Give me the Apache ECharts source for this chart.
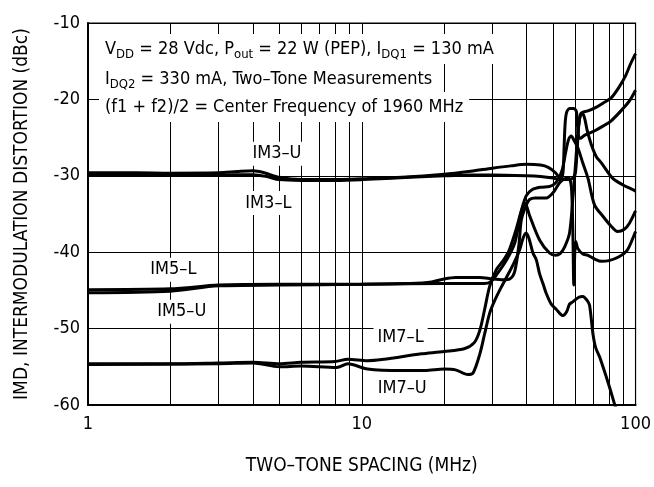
<!DOCTYPE html>
<html>
<head>
<meta charset="utf-8">
<script src="https://cdn.jsdelivr.net/npm/echarts@6/dist/echarts.min.js"></script>
<style>
html,body{margin:0;padding:0;background:#fff;}
#chart{width:654px;height:487px;}
</style>
</head>
<body>
<div id="chart"></div>
<script>
// ---- data (frequency spacing MHz, IMD dBc) ----
const im3U = [[1,-29.6],[1.5,-29.6],[2,-29.65],[3,-29.6],[3.5,-29.45],[4,-29.35],[4.4,-29.6],[5,-30.2],[6,-30.5],[8,-30.5],[10,-30.4],[14,-30.2],[20,-29.8],[25,-29.4],[30,-29.0],[35,-28.7],[40,-28.5],[45,-28.6],[48,-28.9],[51,-29.6],[53.3,-30.4],[54.3,-29.6],[54.8,-26.5],[55.3,-23.2],[56,-21.7],[57.5,-21.2],[59.5,-21.2],[60.8,-21.6],[61.4,-23.5],[61.9,-24.8],[62.8,-25.1],[65,-24.7],[71,-24.1],[76,-23.5],[81.5,-22.8],[90,-21.2],[95,-20.2],[100,-18.8]];
const im3L = [[1,-29.9],[2,-29.9],[3,-29.9],[4,-29.85],[4.5,-30.1],[5,-30.5],[6,-30.6],[8,-30.6],[10,-30.5],[15,-30.2],[20,-30.0],[25,-29.9],[30,-29.9],[40,-30.0],[45,-30.1],[50,-30.3],[53,-30.5],[56,-30.5],[59,-30.3],[60.3,-29.6],[61.2,-26.5],[62,-23.5],[63,-21.9],[64,-21.7],[67,-21.5],[72,-21.0],[76,-20.5],[81.5,-19.8],[87.4,-18.3],[92,-16.9],[96,-15.3],[100,-14.0]];
const im5L = [[1,-44.9],[2,-44.8],[3,-44.3],[5,-44.2],[10,-44.2],[15,-44.1],[18,-43.9],[20,-43.5],[22,-43.3],[27,-43.3],[30,-43.5],[33,-43.6],[34.7,-43.5],[36.2,-42.5],[37.5,-39],[38.3,-35.7],[39.9,-33.8],[41,-33.1],[43,-32.9],[47.2,-32.9],[50,-32.2],[52.8,-30.9],[55,-30.4],[57,-30.3],[58.3,-31.5],[59,-37],[59.5,-44.3],[60,-40],[60.5,-38.6],[61.5,-39.5],[64,-40.2],[67,-40.4],[71,-40.9],[75,-41.2],[80,-41.1],[87,-40.6],[93,-39.8],[97.7,-38.2],[100,-37.3]];
const im5U = [[1,-45.3],[2,-45.1],[3,-44.4],[5,-44.3],[10,-44.2],[20,-44.1],[28,-44.1],[29.5,-43.9],[31,-43],[33.7,-41.1],[36.2,-38.8],[37.7,-35.7],[38.8,-34],[39.5,-33.6],[41,-35.2],[44.6,-38.4],[48.5,-40.1],[51,-40.4],[53,-40.2],[55.1,-39.3],[57.4,-37.5],[59,-33],[60.5,-28],[61.5,-24.5],[62.5,-22.5],[63.4,-21.9],[64.5,-22],[65.5,-22.8],[66.5,-24],[68.9,-25.9],[71.9,-27.5],[75,-28.3],[82.4,-30.3],[90,-31.2],[97.7,-31.8],[100,-32.0]];
const im7L = [[1,-54.6],[2,-54.6],[3,-54.5],[4,-54.4],[5,-54.6],[6,-54.4],[8,-54.3],[8.9,-54.0],[10.5,-54.2],[16.5,-53.3],[20,-53.0],[23.8,-52.6],[25.8,-51.8],[27,-50.2],[28.1,-47.5],[29.3,-44.5],[31,-42.3],[33,-41],[34.5,-39.8],[36.5,-37.2],[38.3,-34.5],[39.9,-32.6],[42,-31.8],[45,-31.5],[48.5,-31.4],[50.5,-31.1],[52.1,-30.5],[54,-29.2],[55.5,-27],[57,-25.2],[58.2,-24.8],[59.5,-25.3],[61.5,-26.3],[64,-28.2],[67,-30.3],[70.8,-33.8],[76,-35.3],[81,-36.5],[86,-37.3],[91,-37.0],[95,-36.2],[100,-34.6]];
const im7U = [[1,-54.7],[3,-54.6],[4,-54.5],[5,-55],[6,-54.9],[8.1,-55.1],[8.9,-54.6],[10.5,-55.3],[14,-55.5],[17,-55.5],[20,-55.3],[22,-55.4],[24.4,-56],[25.5,-55.8],[27,-53.3],[28.1,-50.7],[29.3,-48],[30.6,-46.3],[32.4,-44.5],[34.7,-42.5],[36.2,-41.2],[37.7,-39.7],[38.8,-38.2],[39.8,-37.5],[40.8,-38.2],[42.2,-40.1],[43.4,-41],[44.6,-42.8],[46,-44.2],[47.2,-45.4],[49.2,-46.8],[51.4,-47.5],[54.3,-48.3],[56,-47.8],[57.4,-46.8],[59,-46.5],[62,-45.9],[64.2,-45.8],[66.5,-46.3],[67.9,-46.9],[69.9,-50.7],[71.5,-52.5],[73.9,-53.7],[80.4,-57.7],[84,-60],[86,-61]];

const seriesNames = ['IM3-U','IM3-L','IM5-L','IM5-U','IM7-L','IM7-U'];
const seriesData = [im3U, im3L, im5L, im5U, im7L, im7U];

// curve label anchors [text, freq, dBc]
const curveLabels = [['IM3\u2013U',4.9,-27.1],['IM3\u2013L',4.56,-33.55],['IM5\u2013L',2.05,-42.3],['IM5\u2013U',2.2,-47.8],['IM7\u2013L',13.86,-51.1],['IM7\u2013U',14.05,-57.8]];

// vertical log grid lines (MHz)
const xGridValues = [2,3,4,5,6,7,8,9,10,20,30,40,50,60,70,80,90];
const yTicks = {min:-60, max:-10, interval:10};
const xRange = {min:1, max:100};

const FONT = "'Liberation Sans Narrow','Arial Narrow','DejaVu Sans Condensed',sans-serif";

const chart = echarts.init(document.getElementById('chart'), null, {renderer:'canvas'});

const curveSeries = seriesNames.map((n,i)=>({
  name:n, type:'line', data:seriesData[i], showSymbol:false, symbol:'none',
  smooth:0.3, z:100, clip:true,
  lineStyle:{color:'#000', width:3},
  silent:true, animation:false
}));

const sub = {fontSize:13, fontFamily:FONT, verticalAlign:'bottom', lineHeight:9, fill:'#000'};
const nrm = {fontSize:18, fontFamily:FONT, lineHeight:24, fill:'#000'};

chart.setOption({
  animation:false,
  textStyle:{fontFamily:FONT, color:'#000'},
  grid:{left:88, right:18, top:23, bottom:82, show:true, borderColor:'#000', borderWidth:1.2, backgroundColor:'#fff'},
  xAxis:{
    type:'log', logBase:10, min:xRange.min, max:xRange.max,
    name:'TWO\u2013TONE SPACING (MHz)', nameLocation:'middle', nameGap:52,
    nameTextStyle:{fontSize:19, color:'#000', fontFamily:FONT},
    axisLine:{show:true, lineStyle:{color:'#000', width:2}},
    axisTick:{show:false},
    axisLabel:{fontSize:18, color:'#000', margin:10, fontFamily:FONT},
    splitLine:{show:false}
  },
  yAxis:{
    type:'value', min:yTicks.min, max:yTicks.max, interval:yTicks.interval,
    name:'IMD, INTERMODULATION DISTORTION (dBc)', nameLocation:'middle', nameGap:56,
    nameTextStyle:{fontSize:19, color:'#000', fontFamily:FONT},
    axisLine:{show:true, lineStyle:{color:'#000', width:2}},
    axisTick:{show:false},
    axisLabel:{fontSize:18, color:'#000', margin:8, fontFamily:FONT},
    splitLine:{show:true, lineStyle:{color:'#000', width:1}}
  },
  series:[
    {type:'line', data:[], z:1, silent:true,
     markLine:{silent:true, symbol:['none','none'], animation:false, label:{show:false},
       lineStyle:{color:'#000', width:1, type:'solid'}, emphasis:{disabled:true},
       data:xGridValues.map(v=>({xAxis:v}))}},
    {type:'line', data:[], z:60, silent:true,
     markPoint:{silent:true, symbol:'rect', symbolSize:0, animation:false,
       label:{show:true, position:'inside', fontSize:18, color:'#000', fontFamily:FONT, backgroundColor:'#fff', padding:[3,4]},
       data:curveLabels.map(l=>({coord:[l[1],l[2]], value:l[0], label:{formatter:l[0]}}))}},
    ...curveSeries
  ],
  graphic:[
    {type:'text', left:99, top:34, z:50, style:{
      text:'{n|V}{s|DD}{n| = 28 Vdc, P}{s|out}{n| = 22 W (PEP), I}{s|DQ1}{n| = 130 mA}',
      rich:{n:nrm, s:sub}, backgroundColor:'#fff', padding:[3,6,3,6]}},
    {type:'text', left:99, top:64, z:50, style:{
      text:'{n|I}{s|DQ2}{n| = 330 mA, Two\u2013Tone Measurements}',
      rich:{n:nrm, s:sub}, backgroundColor:'#fff', padding:[3,6,3,6]}},
    {type:'text', left:99, top:92, z:50, style:{
      text:'{n|(f1 + f2)/2 = Center Frequency of 1960 MHz}',
      rich:{n:nrm, s:sub}, backgroundColor:'#fff', padding:[3,6,3,6]}}
  ]
});
</script>
</body>
</html>
